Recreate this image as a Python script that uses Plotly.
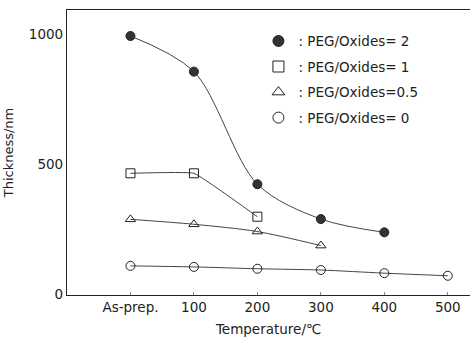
import plotly.graph_objects as go

# x positions: "As-prep." treated as 0 on the temperature axis
tick_vals = [0, 100, 200, 300, 400, 500]
tick_text = ["As-prep.", "100", "200", "300", "400", "500"]

x_peg2 = [0, 100, 200, 300, 400]
y_peg2 = [992, 855, 422, 288, 237]

x_peg1 = [0, 100, 200]
y_peg1 = [464, 464, 297]

x_peg05 = [0, 100, 200, 300]
y_peg05 = [287, 268, 240, 186]

x_peg0 = [0, 100, 200, 300, 400, 500]
y_peg0 = [108, 104, 97, 92, 80, 70]

labels = [": PEG/Oxides= 2", ": PEG/Oxides= 1", ": PEG/Oxides=0.5", ": PEG/Oxides= 0"]

FONT = "DejaVu Sans"
ink = "#222"

series = [
    (x_peg2, y_peg2, "circle", "#333", labels[0], 0.9),
    (x_peg1, y_peg1, "square-open", ink, labels[1], 0.25),
    (x_peg05, y_peg05, "triangle-up-open", ink, labels[2], 0.8),
    (x_peg0, y_peg0, "circle-open", ink, labels[3], 0.8),
]

fig = go.Figure()
for xs, ys, sym, col, lab, sm in series:
    fig.add_trace(go.Scatter(
        x=xs, y=ys, mode="lines+markers",
        line=dict(shape="spline", smoothing=sm, color="#444", width=1),
        marker=dict(symbol=sym, size=9, color=col, line=dict(color=ink, width=1)),
        showlegend=False, cliponaxis=False,
    ))
for i, (xs, ys, sym, col, lab, sm) in enumerate(series):
    fig.add_trace(go.Scatter(
        x=[None], y=[None], mode="markers", name=lab, legendgroup=str(i),
        marker=dict(symbol=sym, size=11, color=col, line=dict(color=ink, width=1)),
    ))

fig.update_layout(
    width=470, height=343,
    margin=dict(l=67, r=0, t=10, b=48),
    paper_bgcolor="white", plot_bgcolor="white",
    font=dict(family=FONT, size=13, color=ink),
    legend=dict(x=0.475, y=0.945, xanchor="left", yanchor="top",
                bgcolor="rgba(0,0,0,0)", font=dict(size=13.5, family=FONT),
                tracegroupgap=5, itemwidth=30),
    xaxis=dict(
        range=[-100, 535], tickvals=tick_vals, ticktext=tick_text,
        showgrid=False, zeroline=False, showline=True, mirror=True,
        linecolor=ink, linewidth=1.2, ticks="inside", ticklen=3, tickcolor="#888",
        title=dict(text="Temperature/℃", standoff=10, font=dict(size=13.5)),
        tickfont=dict(size=13.5),
    ),
    yaxis=dict(
        range=[-4, 1092], tickvals=[0, 500, 1000],
        showgrid=False, zeroline=False, showline=True,
        linecolor=ink, linewidth=1.2, ticks="",
        title=dict(text="Thickness/nm", standoff=12, font=dict(size=13)),
        tickfont=dict(size=13.5),
    ),
)

fig.write_html("out.html")
